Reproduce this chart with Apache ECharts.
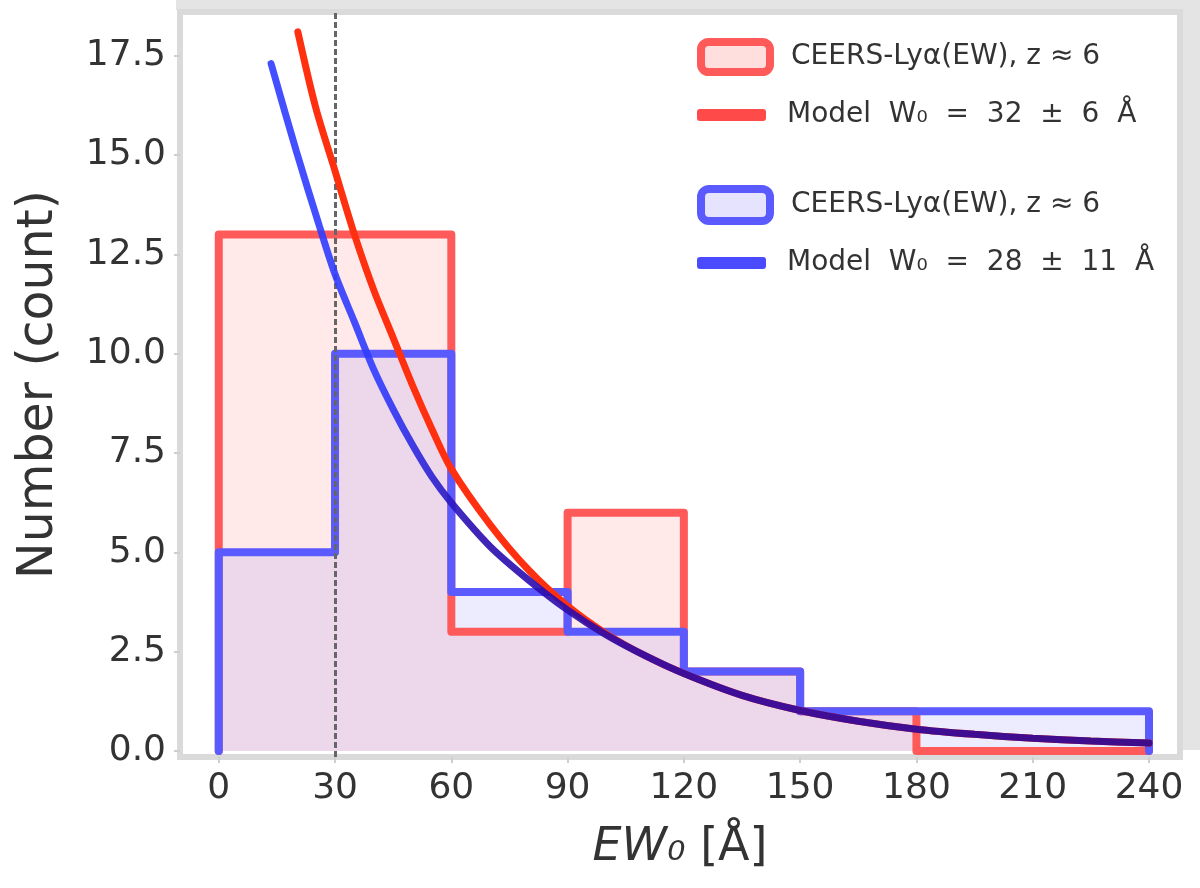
<!DOCTYPE html>
<html><head><meta charset="utf-8">
<script src="https://cdn.jsdelivr.net/npm/echarts@6/dist/echarts.min.js"></script>
<style>html,body{margin:0;padding:0;background:#fff}#c{width:1200px;height:888px}</style>
</head><body><div id="c"></div>
<script>
const binEdges = [0, 30, 60, 90, 120, 150, 180, 210, 240];
const redCounts = [13, 13, 3, 6, 2, 1, 0, 0];
const blueCounts = [5, 10, 4, 3, 2, 1, 1, 1];
const redModelX = [20.4, 25, 30, 35, 40, 45, 50, 55, 60, 70, 80, 90, 100, 110, 120, 135, 150, 165, 180, 195, 210, 225, 240];
const redModelY = [18.1, 16.2, 14.6, 13.0, 11.6, 10.4, 9.2, 8.1, 7.1, 5.7, 4.55, 3.65, 2.95, 2.4, 1.95, 1.4, 1.02, 0.75, 0.55, 0.42, 0.32, 0.25, 0.2];
const blueModelX = [13.5, 20, 26, 30, 35, 40, 45, 50, 55, 60, 70, 80, 90, 100, 110, 120, 135, 150, 165, 180, 195, 210, 225, 240];
const blueModelY = [17.3, 15.1, 13.2, 12.0, 10.8, 9.6, 8.6, 7.7, 6.9, 6.25, 5.15, 4.3, 3.55, 2.92, 2.4, 1.95, 1.4, 1.02, 0.75, 0.55, 0.42, 0.32, 0.25, 0.2];
const xTicks = [0, 30, 60, 90, 120, 150, 180, 210, 240];
const yTicks = [0, 2.5, 5, 7.5, 10, 12.5, 15, 17.5];
const threshold = 30;
const legendLabels = {
  redHist: 'CEERS-Lyα(EW), z ≈ 6',
  redModel: 'Model  W₀  =  32  ±  6  Å',
  blueHist: 'CEERS-Lyα(EW), z ≈ 6',
  blueModel: 'Model  W₀  =  28  ±  11  Å'
};

function stepPoints(edges, counts) {
  const pts = [[edges[0], 0]];
  counts.forEach((c, i) => pts.push([edges[i], c]));
  pts.push([edges[edges.length - 1], counts[counts.length - 1]]);
  pts.push([edges[edges.length - 1], 0]);
  return pts;
}
function zip(xs, ys) { return xs.map((x, i) => [x, ys[i]]); }

const FONT = 'DejaVu Sans';
const chart = echarts.init(document.getElementById('c'));
const legendText = {fontSize: 28, color: '#333', fontFamily: FONT, padding: [0, 0, 0, 16]};
function mkLegend(name, top, h, itemStyle, icon) {
  return {
    left: 697, top: top, padding: 0, itemWidth: 69, itemHeight: h, selectedMode: false,
    data: [{name: name, icon: icon, itemStyle: itemStyle}],
    formatter: n => legendLabels[n], textStyle: legendText
  };
}
const blueGrad = new echarts.graphic.LinearGradient(220, 0, 1150, 0, [
  {offset: 0, color: '#2f3cff'}, {offset: 0.17, color: '#2f3cff'},
  {offset: 0.27, color: '#2a0cb0'}, {offset: 1, color: '#2a0898'}
], true);

chart.setOption({
  animation: false,
  backgroundColor: '#fff',
  grid: {left: 180, right: 20, top: 12, bottom: 131, show: true, borderColor: '#dadada', borderWidth: 6, backgroundColor: 'transparent'},
  graphic: [
    {type: 'rect', shape: {x: 176, y: 0, width: 1024, height: 10}, style: {fill: '#e4e4e4'}, z: -1},
    {type: 'rect', shape: {x: 1182, y: 0, width: 18, height: 750}, style: {fill: '#e4e4e4'}, z: -1}
  ],
  legend: [
    mkLegend('redHist', 38, 30, {color: 'rgba(255,0,0,0.13)', borderColor: '#ff5a5a', borderWidth: 8}, 'roundRect'),
    mkLegend('redModel', 101, 12, {color: '#ff4a4a', borderWidth: 0}, 'roundRect'),
    mkLegend('blueHist', 185, 32, {color: 'rgba(60,40,255,0.13)', borderColor: '#5a5aff', borderWidth: 8}, 'roundRect'),
    mkLegend('blueModel', 249, 12, {color: '#4a4aff', borderWidth: 0}, 'roundRect')
  ],
  xAxis: {
    type: 'value', min: -10, max: 248,
    splitLine: {show: false}, axisLine: {show: false, onZero: false},
    axisTick: {show: true, length: 6, lineStyle: {color: '#cfcfcf', width: 2}, customValues: xTicks},
    axisLabel: {fontSize: 36, color: '#333', fontFamily: FONT, margin: 14, customValues: xTicks},
    name: '{i|EW₀} {n|[Å]}', nameLocation: 'middle', nameGap: 68,
    nameTextStyle: {fontSize: 46, color: '#333', fontFamily: FONT,
      rich: {i: {fontSize: 46, fontStyle: 'italic', color: '#333', fontFamily: FONT}, n: {fontSize: 46, color: '#333', fontFamily: FONT}}}
  },
  yAxis: {
    type: 'value', min: -0.15, max: 18.6,
    splitLine: {show: false}, axisLine: {show: false, onZero: false},
    axisTick: {show: true, length: 6, lineStyle: {color: '#cfcfcf', width: 2}, customValues: yTicks},
    axisLabel: {fontSize: 36, color: '#333', fontFamily: FONT, margin: 14, customValues: yTicks, formatter: v => v.toFixed(1)},
    name: 'Number (count)', nameLocation: 'middle', nameGap: 116, nameRotate: 90,
    nameTextStyle: {fontSize: 49, color: '#333', fontFamily: FONT}
  },
  series: [
    {name: 'redFill', type: 'line', step: 'end', data: stepPoints(binEdges, redCounts), symbol: 'none', silent: true,
      lineStyle: {width: 0, opacity: 0}, areaStyle: {color: 'rgba(255,0,0,0.12)'}, z: 1},
    {name: 'blueFill', type: 'line', step: 'end', data: stepPoints(binEdges, blueCounts), symbol: 'none', silent: true,
      lineStyle: {width: 0, opacity: 0}, areaStyle: {color: 'rgba(60,40,255,0.13)'}, z: 1},
    {name: 'threshold', type: 'line', data: [], symbol: 'none', silent: true, z: 2,
      markLine: {symbol: 'none', silent: true, label: {show: false},
        lineStyle: {color: '#666', width: 3, type: [6, 3]}, data: [{xAxis: threshold}]}},
    {name: 'redHist', type: 'line', step: 'end', data: stepPoints(binEdges, redCounts), symbol: 'none', silent: true,
      color: '#ff5a5a', lineStyle: {color: '#ff5a5a', width: 8, join: 'round', cap: 'round'}, z: 3},
    {name: 'blueHist', type: 'line', step: 'end', data: stepPoints(binEdges, blueCounts), symbol: 'none', silent: true,
      color: '#5a5aff', lineStyle: {color: '#5a5aff', width: 8, join: 'round', cap: 'round'}, z: 4},
    {name: 'redModel', type: 'line', smooth: 0.3, data: zip(redModelX, redModelY), symbol: 'none', silent: true,
      color: '#ff3010', lineStyle: {color: '#ff3010', width: 7, cap: 'round'}, z: 5},
    {name: 'blueModel', type: 'line', smooth: 0.3, data: zip(blueModelX, blueModelY), symbol: 'none', silent: true,
      color: '#2f3cff', lineStyle: {color: blueGrad, width: 7, cap: 'round', opacity: 0.9}, z: 6}
  ]
});
</script></body></html>
